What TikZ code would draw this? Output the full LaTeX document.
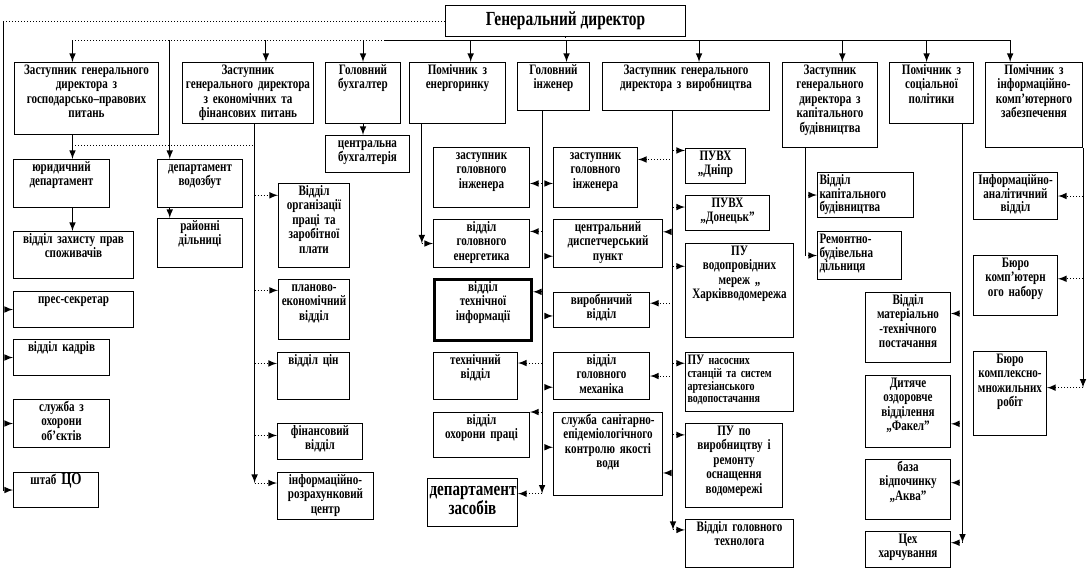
\documentclass[tikz,border=0pt]{standalone}
\usepackage{fontspec}
\setmainfont[FakeStretch=0.77]{Liberation Serif}
\tikzset{
  unit/.style={draw, line width=0.5pt, anchor=north west, align=center,
    inner xsep=1pt, inner ysep=1.5pt, text height=4.5pt,
    font=\bfseries\fontsize{7.2}{7.2}\selectfont},
  tight/.style={font=\bfseries\fontsize{7.2}{6.8}\selectfont},
  fine/.style={font=\bfseries\fontsize{6.5}{6.4}\selectfont},
  head/.style={draw, line width=0.5pt, anchor=north west, minimum width=120pt,
    minimum height=15pt, font=\bfseries\fontsize{10}{10}\selectfont},
  trunk/.style={line width=0.5pt},
  branch/.style={line width=0.5pt, densely dotted},
}
\begin{document}
\begin{tikzpicture}[x=0.5pt, y=-0.5pt, >=latex]
  \path[use as bounding box, fill=white] (0,0) rectangle (1087,570);

  \node[head] (gendir) at (445,5) {Генеральний директор};

  \node[unit, text width=70pt, text depth=28.5pt] (zgosp) at (14,62) {Заступник генерального\\директора з\\господарсько–правових\\питань};
  \node[unit, text width=63.5pt, text depth=23pt] (zekon) at (182,62) {Заступник\\генерального директора\\з економічних та\\фінансових питань};
  \node[unit, text width=35.5pt, text depth=23pt] (buh) at (325,62) {Головний\\бухгалтер};
  \node[unit, text width=46pt, text depth=23pt] (energ) at (409,62) {Помічник з\\енергоринку};
  \node[unit, text width=34pt, text depth=16.5pt] (golinzh) at (517,62) {Головний\\інженер};
  \node[unit, text width=81.5pt, text depth=16.5pt] (zvyr) at (602,62) {Заступник генерального\\директора з виробництва};
  \node[unit, text width=45.5pt, text depth=35pt] (zkap) at (782,62) {Заступник\\генерального\\директора з\\капітального\\будівництва};
  \node[unit, text width=40pt, text depth=23pt] (psoc) at (889,62) {Помічник з\\соціальної\\політики};
  \node[unit, text width=46.5pt, text depth=35pt] (pinf) at (985,62) {Помічник з\\інформаційно-\\комп’ютерного\\забезпечення};

  \node[unit, text width=46pt, text depth=16.5pt] (yurdep) at (13,159) {юридичний\\департамент};
  \node[unit, text width=58pt, text depth=16pt] (zahyst) at (13,231) {відділ захисту прав\\споживачів};
  \node[unit, text width=40.5pt, text depth=16.5pt] (vodozbut) at (157,159) {департамент\\водозбут};
  \node[unit, text width=40.5pt, text depth=17pt] (rayon) at (157,218) {районні\\дільниці};
  \node[unit, text width=58pt, text depth=10.5pt] (pres) at (13,291) {прес-секретар};
  \node[unit, text width=46pt, text depth=10.5pt] (kadry) at (13,339) {відділ кадрів};
  \node[unit, text width=46pt, text depth=16.5pt] (ohorona) at (13,399) {служба з\\охорони\\об’єктів};
  \node[unit, text width=40.5pt, text depth=10pt] (shtab) at (13,472) {штаб {\fontsize{8.5}{8}\selectfont ЦО}};

  \node[unit, text width=33.5pt, text depth=34.5pt] (orhpraci) at (278,183) {Відділ\\організації\\праці та\\заробітної\\плати};
  \node[unit, text width=33.5pt, text depth=22.5pt] (planovo) at (278,279) {планово-\\економічний\\відділ};
  \node[unit, text width=34pt, text depth=16pt] (tsin) at (277,352) {відділ цін};
  \node[unit, text width=40.5pt, text depth=10.5pt] (finans) at (277,423) {фінансовий\\відділ};
  \node[unit, text width=46pt, text depth=16pt] (infroz) at (277,472) {інформаційно-\\розрахунковий\\центр};
  \node[unit, text width=40pt, text depth=11pt] (tsbuh) at (325,135) {центральна\\бухгалтерія};

  \node[unit, text width=46pt, text depth=22.5pt] (zinzhL) at (433,147) {заступник\\головного\\інженера};
  \node[unit, text width=46pt, text depth=16.5pt] (energetyk) at (433,219) {відділ\\головного\\енергетика};
  \node[unit, line width=1.5pt, text width=46.5pt, text depth=23pt] (tekhinf) at (433,278) {відділ\\технічної\\інформації};
  \node[unit, text width=40pt, text depth=16pt] (tekhn) at (433,352) {технічний\\відділ};
  \node[unit, text width=46pt, text depth=15pt] (ohpraci) at (433,412) {відділ\\охорони праці};
  \node[unit, text width=43pt, text height=7pt, text depth=14pt, font=\bfseries\fontsize{9.8}{9.5}\selectfont] (zasoby) at (427,478) {департамент\\засобів};

  \node[unit, text width=40pt, text depth=22.5pt] (zinzhR) at (553,147) {заступник\\головного\\інженера};
  \node[unit, text width=52.5pt, text depth=16.5pt] (dyspetch) at (553,219) {центральний\\диспетчерський\\пункт};
  \node[unit, text width=46pt, text depth=10pt] (vyrobn) at (553,292) {виробничий\\відділ};
  \node[unit, text width=46pt, text depth=16pt] (mekh) at (553,352) {відділ\\головного\\механіка};
  \node[unit, text width=52.5pt, text depth=34pt] (sanit) at (553,412) {служба санітарно-\\епідеміологічного\\контролю якості\\води};

  \node[unit, text width=28pt, text depth=10pt] (dnipr) at (685,148) {ПУВХ\\„Дніпр};
  \node[unit, text width=40pt, text depth=10pt] (donetsk) at (685,195) {ПУВХ\\„Донецьк”};
  \node[unit, text width=52pt, text depth=39.5pt] (kharkiv) at (685,243) {ПУ\\водопровідних\\мереж „\\Харківводомережа};
  \node[unit, fine, align=left, text width=52pt, text depth=22pt] (nasos) at (685,352) {{\fontsize{7.2}{6.4}\selectfont ПУ} насосних\\станцій та систем\\артезіанського\\водопостачання};
  \node[unit, text width=46.5pt, text depth=34.5pt] (osnasch) at (685,423) {ПУ по\\виробництву і\\ремонту\\оснащення\\водомережі};
  \node[unit, text width=52pt, text depth=16.5pt] (tekhnol) at (685,519) {Відділ головного\\технолога};

  \node[unit, tight, align=left, text width=46pt, text depth=15pt] (vkap) at (817,172) {Відділ\\капітального\\будівництва};
  \node[unit, tight, align=left, text width=40pt, text depth=16.5pt] (remont) at (817,231) {Ремонтно-\\будівельна\\дільниця};

  \node[unit, text width=40.5pt, text depth=27.5pt] (mtp) at (865,292) {Відділ\\матеріально\\-технічного\\постачання};
  \node[unit, text width=40.5pt, text depth=28.5pt] (fakel) at (865,375) {Дитяче\\оздоровче\\відділення\\„Факел”};
  \node[unit, text width=40.5pt, text depth=22.5pt] (akva) at (865,459) {база\\відпочинку\\„Аква”};
  \node[unit, text width=40.5pt, text depth=10.5pt] (tseh) at (865,531) {Цех\\харчування};

  \node[unit, tight, text width=40pt, text depth=16pt] (infan) at (973,172) {Інформаційно-\\аналітичний\\відділ};
  \node[unit, text width=40pt, text depth=22.5pt] (bkomp) at (973,255) {Бюро\\комп’ютерн\\ого набору};
  \node[unit, text width=34.5pt, text depth=34.5pt] (bkompl) at (973,351) {Бюро\\комплексно-\\множильних\\робіт};

  \coordinate (bus) at (0,40);
  \coordinate (busmid) at (385,40);
  \coordinate (leftline) at (3,0);
  \coordinate (joinL) at (0,145);

  \draw[branch] (gendir.south) -- (gendir.south |- bus);
  \draw[branch] (zgosp.111 |- bus) -- (busmid);
  \draw[trunk] (busmid) -- (pinf.119 |- bus);
  \foreach \n/\a in {zgosp/111, zekon/60, buh/north, energ/67, golinzh/62, zvyr/62, zkap/74, psoc/99, pinf/119, vodozbut/141}
    \draw[trunk, ->] (\n.\a |- bus) -- (\n.\a);

  \draw[branch] (gendir.west) -- (gendir.west -| leftline);
  \draw[trunk] (gendir.west -| leftline) -- (leftline |- shtab.west);
  \foreach \n in {pres, kadry, ohorona, shtab}
    \draw[branch, ->] (leftline |- \n.west) -- (\n.west);

  \draw[trunk, ->] (zgosp.249) -- (zgosp.249 |- yurdep.north);
  \draw[trunk, ->] (zgosp.249 |- yurdep.south) -- (zgosp.249 |- zahyst.north);
  \draw[trunk, ->] (vodozbut.141 |- vodozbut.south) -- (vodozbut.141 |- rayon.north);
  \draw[branch] (zgosp.249 |- joinL) -- (zekon.282 |- joinL);
  \draw[trunk, ->] (buh.south) -- (buh.south |- tsbuh.north);

  \draw[trunk, ->] (zekon.282) -- (zekon.282 |- infroz.165);
  \foreach \n/\a in {orhpraci/140, planovo/152, tsin/161, finans/172, infroz/165}
    \draw[branch, ->] (zekon.282 |- \n.\a) -- (\n.\a);

  \draw[trunk, ->] (energ.221) -- (energ.221 |- energetyk.west);
  \draw[branch, ->] (energ.221 |- energetyk.west) -- (energetyk.west);

  \draw[trunk, ->] (golinzh.245) -- (golinzh.245 |- zasoby.11);
  \foreach \n/\a in {zinzhL/353, energetyk/14, tekhinf/20, tekhn/17, ohpraci/north east, zasoby/11,
      zinzhR/188, dyspetch/193, vyrobn/187, mekh/193, sanit/173}
    \draw[branch, ->] (golinzh.245 |- \n.\a) -- (\n.\a);

  \draw[trunk, ->] (zvyr.242) -- (zvyr.242 |- tekhnol.166);
  \foreach \n/\a in {zinzhR/23, dyspetch/12, vyrobn/8, mekh/east, sanit/341,
      dnipr/153, donetsk/172, kharkiv/156, nasos/161, osnasch/148, tekhnol/166}
    \draw[branch, ->] (zvyr.242 |- \n.\a) -- (\n.\a);

  \draw[trunk] (zkap.240) -- (zkap.240 |- remont.west);
  \foreach \n in {vkap, remont}
    \draw[branch, ->] (zkap.240 |- \n.west) -- (\n.west);

  \draw[trunk, ->] (psoc.315) -- (psoc.315 |- tseh.9);
  \foreach \n/\a in {mtp/18, fakel/344, akva/9, tseh/9}
    \draw[branch, ->] (psoc.315 |- \n.\a) -- (\n.\a);

  \draw[trunk, ->] (pinf.south east) -- (pinf.south east |- bkompl.9);
  \foreach \n/\a in {infan/east, bkomp/9, bkompl/9}
    \draw[branch, ->] (pinf.south east |- \n.\a) -- (\n.\a);
\end{tikzpicture}
\end{document}
